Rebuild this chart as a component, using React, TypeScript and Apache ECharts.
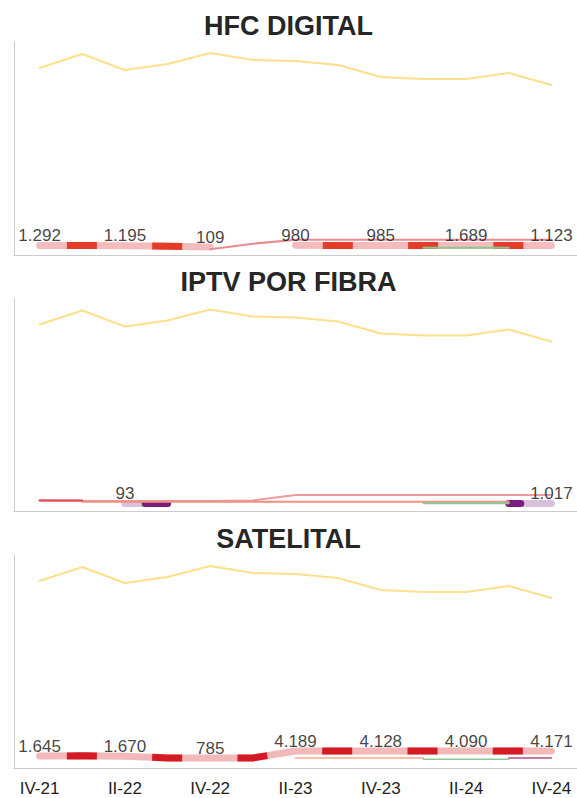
import React, { useEffect, useRef } from 'react';
import * as echarts from 'echarts';

const quarters = ['IV-21', 'I-22', 'II-22', 'III-22', 'IV-22', 'I-23', 'II-23', 'III-23', 'IV-23', 'I-24', 'II-24', 'III-24', 'IV-24'];
const panelTitles = ['HFC DIGITAL', 'IPTV POR FIBRA', 'SATELITAL'];
const tickValues = [0, 2, 4, 6, 8, 10, 12];

// total market (same line in every panel)
const totalMarket = [21070, 22650, 20850, 21520, 22760, 21970, 21860, 21410, 20060, 19830, 19830, 20510, 19160];

// HFC DIGITAL
const hfcMain = [1070, 1070, 1050, 980, 900, null, 1090, 1070, 1070, 1070, 1070, 1070, 1070];
const hfcLabels = [1292, null, 1195, null, 109, null, 980, null, 985, null, 1689, null, 1123];
const hfcRose = [null, null, null, null, 650, 1270, 1720, 1720, 1720, 1720, 1720, 1720, 1720];
const hfcGreen = [null, null, null, null, null, null, null, null, null, 820, 820, 820, null];

// IPTV POR FIBRA
const iptvMain = [null, null, 900, 900, null, null, null, null, null, null, null, 900, 900];
const iptvLabels = [null, null, 93, null, null, null, null, null, null, null, null, null, 1017];
const iptvRed = [1240, 1240, null, null, null, null, null, null, null, null, null, null, null];
const iptvRose = [1240, 1200, 1190, 1180, 1180, 1240, 1860, 1860, 1860, 1860, 1860, 1860, 1860];
const iptvSalmon = [null, 1100, 1100, 1100, 1100, 1100, 1110, 1110, 1110, 1110, 1110, 1110, null];
const iptvGreen = [null, null, null, null, null, null, null, null, null, 920, 920, 920, null];

// SATELITAL
const satMain = [1350, 1370, 1320, 1140, 1120, 1130, 1910, 1910, 1910, 1910, 1910, 1910, 1910];
const satLabels = [1645, null, 1670, null, 785, null, 4189, null, 4128, null, 4090, null, 4171];
const satSalmon = [null, null, null, null, null, null, 1130, 1130, 1130, 1130, null, null, null];
const satGreen = [null, null, null, null, null, null, null, null, null, 980, 980, 980, null];
const satPurple = [null, null, null, null, null, null, null, null, null, null, null, 1130, 1130];

const FONT = '"Liberation Sans", Arial, Helvetica, sans-serif';
const PANEL_STEP = 256.5;
const GRID_TOP = 42;
const GRID_H = 213;
const Y_MAX = 24000;

const pairs = (arr: (number | null)[]) => arr.map((v, i) => [i, v === null ? '-' : v]);

const fmt = (n: number) =>
  n >= 1000 ? `${Math.floor(n / 1000)}.${String(n % 1000).padStart(3, '0')}` : String(n);

export default function App() {
  const ref = useRef<HTMLDivElement>(null);

  useEffect(() => {
    if (!ref.current) return;
    const chart = echarts.init(ref.current, undefined, { renderer: 'svg' });

    const series: any[] = [];
    const ax = (p: number) => ({ xAxisIndex: p, yAxisIndex: p });

    const thin = (p: number, data: (number | null)[], color: string, width = 2, z = 3) => ({
      type: 'line', ...ax(p), data: pairs(data), showSymbol: false, symbol: 'none', silent: true, z,
      lineStyle: { color, width, cap: 'round' },
    });
    const thick = (p: number, data: (number | null)[], color: string) => ({
      type: 'line', ...ax(p), data: pairs(data), showSymbol: false, symbol: 'none', silent: true, z: 2,
      lineStyle: { color, width: 7, cap: 'round', join: 'round' },
    });
    const dashed = (p: number, data: (number | null)[], color: string, offset: number, cap = 'butt') => ({
      type: 'line', ...ax(p), data: pairs(data), showSymbol: false, symbol: 'none', silent: true, z: 2,
      lineStyle: { color, width: 7, type: [30, 55.3], dashOffset: offset, cap },
    });
    const labels = (p: number, base: (number | null)[], lab: (number | null)[]) => ({
      type: 'scatter', ...ax(p), silent: true, z: 10, symbolSize: 1,
      itemStyle: { color: 'rgba(0,0,0,0)' },
      data: lab.map((l, i) => (l === null || base[i] === null ? null : [i, base[i]])).filter((d) => d !== null),
      label: {
        show: true, position: 'top', distance: 1, fontSize: 17, color: '#111', fontFamily: FONT,
        formatter: (prm: any) => {
          const v = lab[prm.data[0]];
          return v === null ? '' : fmt(v);
        },
      },
    });

    for (let p = 0; p < 3; p++) {
      series.push(thin(p, totalMarket, '#fde08b', 2, 1));
    }

    // Panel 1 — HFC DIGITAL
    series.push(thick(0, hfcMain, '#f5bcbd'));
    series.push(dashed(0, hfcMain, '#e33c28', 57.6));
    series.push(thin(0, hfcRose, '#ea8a93'));
    series.push(thin(0, hfcGreen, '#8cc58f'));
    series.push(labels(0, hfcMain, hfcLabels));

    // Panel 2 — IPTV POR FIBRA
    series.push(thin(1, iptvRose, '#ee9aa0'));
    series.push(thin(1, iptvSalmon, '#f2907e'));
    series.push(thin(1, iptvRed, '#e2474d'));
    series.push(thin(1, iptvGreen, '#8cc59a'));
    series.push(thick(1, iptvMain, '#d8c0de'));
    series.push(dashed(1, iptvMain.map((v, i) => (i <= 3 ? v : null)), '#7a1c7c', 65.3, 'round'));
    series.push(dashed(1, iptvMain.map((v, i) => (i >= 11 ? v : null)), '#7a1c7c', 18, 'round'));
    series.push(labels(1, iptvMain, iptvLabels));

    // Panel 3 — SATELITAL
    series.push(thick(2, satMain, '#f3b8ba'));
    series.push(dashed(2, satMain, '#d41a22', 57.6));
    series.push(thin(2, satSalmon, '#f4a98c', 1.5));
    series.push(thin(2, satGreen, '#8cc59a', 1.5));
    series.push(thin(2, satPurple, '#b44d86', 1.5));
    series.push(labels(2, satMain, satLabels));

    const grids = [0, 1, 2].map((p) => ({
      left: 14, right: 0, top: GRID_TOP + PANEL_STEP * p, height: GRID_H, containLabel: false,
    }));
    const xAxes = [0, 1, 2].map((p) => ({
      type: 'value', gridIndex: p, min: -0.6, max: 12.6,
      axisLine: { show: true, onZero: false, lineStyle: { color: '#cccccc', width: 1 } },
      axisTick: { show: false },
      splitLine: { show: false },
      axisLabel: {
        show: p === 2, customValues: tickValues, margin: 12, fontSize: 17, color: '#222', fontFamily: FONT,
        formatter: (v: number) => quarters[Math.round(v)] ?? '',
      },
    }));
    const yAxes = [0, 1, 2].map((p) => ({
      type: 'value', gridIndex: p, min: 0, max: Y_MAX,
      axisLine: { show: true, onZero: false, lineStyle: { color: '#cccccc', width: 1 } },
      axisTick: { show: false },
      splitLine: { show: false },
      axisLabel: { show: false },
    }));
    const titles = panelTitles.map((t, p) => ({
      text: t, left: 'center', top: 12 + PANEL_STEP * p, padding: 0,
      textStyle: { fontSize: 27, fontWeight: 'bold', color: '#262626', fontFamily: FONT },
    }));

    chart.setOption({
      animation: false,
      backgroundColor: '#ffffff',
      title: titles,
      grid: grids,
      xAxis: xAxes,
      yAxis: yAxes,
      series,
    });

    return () => chart.dispose();
  }, []);

  return (
    <div
      ref={ref}
      style={{ position: 'absolute', left: 0, top: 0, width: 577, height: 798, background: '#fff' }}
    />
  );
}
